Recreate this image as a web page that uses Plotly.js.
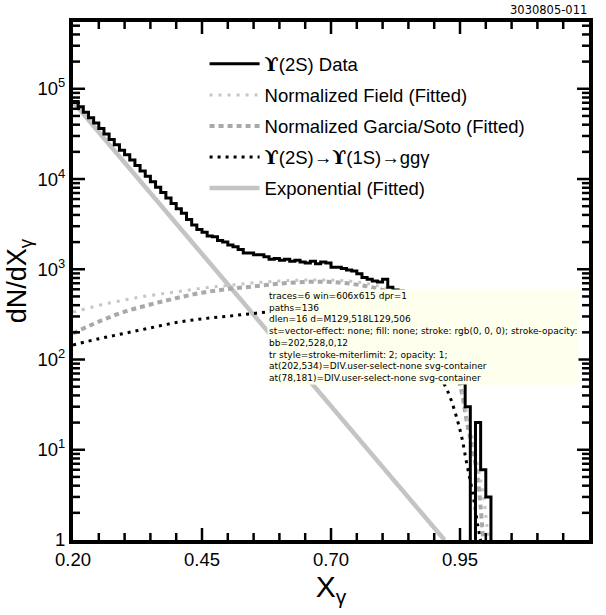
<!DOCTYPE html>
<html>
<head>
<meta charset="utf-8">
<script src="https://cdn.plot.ly/plotly-3.0.1.min.js"></script>
<style>html,body{margin:0;padding:0;background:#fff;}#chart{width:606px;height:615px;}</style>
</head>
<body>
<div id="chart"></div>
<script>
// Histogram bin edges (X_gamma) and counts for Upsilon(2S) data
const binEdges = [0.20,0.21,0.22,0.23,0.24,0.25,0.26,0.27,0.28,0.29,
  0.30,0.31,0.32,0.33,0.34,0.35,0.36,0.37,0.38,0.39,
  0.40,0.41,0.42,0.43,0.44,0.45,0.46,0.47,0.48,0.49,
  0.50,0.51,0.52,0.53,0.54,0.55,0.56,0.57,0.58,0.59,
  0.60,0.61,0.62,0.63,0.64,0.65,0.66,0.67,0.68,0.69,
  0.70,0.71,0.72,0.73,0.74,0.75,0.76,0.77,0.78,0.79,
  0.80,0.81,0.82,0.83,0.84,0.85,0.86,0.87,0.88,0.89,
  0.90,0.91,0.92,0.93,0.94,0.95,0.96,0.97,0.98,0.99,
  1.00,1.01];
const dataCounts = [72400,63100,55000,47900,41700,36300,31600,27500,24000,20900,
  18600,16200,14100,12300,10700,9330,8130,7080,6170,5370,
  4680,4170,3550,3090,2750,2570,2340,2290,2090,2000,
  1860,1780,1660,1510,1510,1450,1450,1380,1290,1320,
  1260,1290,1230,1260,1200,1170,1230,1150,1200,1170,
  1050,1050,1020,980,955,891,813,776,741,724,
  776,631,589,575,550,550,417,355,316,229,
  214,263,141,89,60,55,30,0,20,6,
  3];

// Normalized Field (Fitted)
const fieldX = [0.20,0.25,0.30,0.35,0.40,0.45,0.50,0.55,0.60,0.65,0.70,0.75,0.80,0.85,0.875,0.90,0.925,0.95,0.965,0.975,0.985,0.995,1.005];
const fieldY = [335,398,457,513,562,617,661,708,741,759,759,724,631,468,316,214,132,56,22,12.6,6.3,3.2,1.0];

// Normalized Garcia/Soto (Fitted)
const garciaX = [0.20,0.25,0.30,0.35,0.40,0.45,0.50,0.55,0.60,0.65,0.70,0.75,0.80,0.85,0.875,0.90,0.925,0.95,0.965,0.975,0.985,0.995];
const garciaY = [195,263,339,407,479,550,603,646,692,724,724,676,589,437,282,200,126,52,18,10,4.5,1.0];

// Upsilon(2S) -> Upsilon(1S) -> gg gamma
const gggX = [0.20,0.25,0.30,0.35,0.40,0.45,0.50,0.55,0.60,0.65,0.70,0.75,0.80,0.85,0.875,0.90,0.925,0.95,0.963,0.975,0.985,0.99];
const gggY = [145,170,195,224,257,282,302,324,347,355,347,295,229,148,112,79,46,16.6,7.1,3.2,1.4,1.0];

// Exponential (Fitted)
const expX = [0.20,0.92];
const expY = [72000,1];

// Axis ticks
const yTickVals = [1,10,100,1000,10000,100000];
const yTickText = ['1','10<sup>1</sup>','10<sup>2</sup>','10<sup>3</sup>','10<sup>4</sup>','10<sup>5</sup>'];
const xTickVals = [0.20,0.45,0.70,0.95,1.20];
const xTickText = ['0.20','0.45','0.70','0.95','1.20'];
const xMinorTicks = [0.25,0.30,0.35,0.40,0.50,0.55,0.60,0.65,0.75,0.80,0.85,0.90,1.00,1.05,1.10,1.15];
const yMinorDigits = [2,3,4,5,6,7,8,9];

const X_RANGE = [0.20, 1.20];
const Y_RANGE_LOG = [0, 5.74];

// step-histogram path built from bins
const histX = binEdges.slice();
const histY = dataCounts.map(v => v > 0 ? v : 0.1);
histY.push(dataCounts[dataCounts.length - 1]);
histX.push(binEdges[binEdges.length - 1]);
histY.push(0.1);

const yMinorTicks = [];
for (let d = 0; d < 6; d++) yMinorDigits.forEach(k => yMinorTicks.push(k * Math.pow(10, d)));

// inside tick marks on all four sides, drawn as a line trace through the axes
const PW = 516, PH = 518, MAJ = 12, MIN = 7;
const dLogPerPx = (Y_RANGE_LOG[1] - Y_RANGE_LOG[0]) / PH;
const dXPerPx = (X_RANGE[1] - X_RANGE[0]) / PW;
const yLo = Math.pow(10, Y_RANGE_LOG[0]), yHi = Math.pow(10, Y_RANGE_LOG[1]);
const tickX = [], tickY = [];
function xTick(v, len) {
  tickX.push(v, v, null, v, v, null);
  tickY.push(yLo, Math.pow(10, Y_RANGE_LOG[0] + len * dLogPerPx), null, yHi, Math.pow(10, Y_RANGE_LOG[1] - len * dLogPerPx), null);
}
function yTick(v, len) {
  tickX.push(X_RANGE[0], X_RANGE[0] + len * dXPerPx, null, X_RANGE[1], X_RANGE[1] - len * dXPerPx, null);
  tickY.push(v, v, null, v, v, null);
}
xTickVals.slice(1, -1).forEach(v => xTick(v, MAJ));
xMinorTicks.forEach(v => xTick(v, MIN));
yTickVals.slice(1).forEach(v => yTick(v, MAJ));
yMinorTicks.filter(v => v < yHi).forEach(v => yTick(v, MIN));

const FONT = 'Liberation Sans, Arial, Helvetica, sans-serif';
const UPS = '<span style="font-family:DejaVu Serif;font-weight:bold">ϒ</span>';

const traces = [
  {x: expX, y: expY, mode: 'lines', name: 'Exponential (Fitted)', legendgroup: 'e', legendrank: 5,
   line: {color: '#c4c4c4', width: 4.5}},
  {x: gggX, y: gggY, mode: 'lines', name: UPS + '(2S)→' + UPS + '(1S)→ggγ', legendgroup: 'd', legendrank: 4,
   line: {color: '#000000', width: 3, dash: '3px,5px', shape: 'spline'}},
  {x: garciaX, y: garciaY, mode: 'lines', name: 'Normalized Garcia/Soto (Fitted)', legendgroup: 'c', legendrank: 3,
   line: {color: '#a9a9a9', width: 4, dash: '5px,4px', shape: 'spline'}},
  {x: fieldX, y: fieldY, mode: 'lines', name: 'Normalized Field (Fitted)', legendgroup: 'b', legendrank: 2,
   line: {color: '#c6c6c6', width: 3, dash: '3px,6px', shape: 'spline'}},
  {x: histX, y: histY, mode: 'lines', name: UPS + '(2S) Data', legendgroup: 'a', legendrank: 1,
   line: {color: '#000000', width: 3, shape: 'hv'}},
  {x: tickX, y: tickY, mode: 'lines', showlegend: false, hoverinfo: 'skip', connectgaps: false,
   line: {color: '#000000', width: 2.5}}
];

const layout = {
  width: 606, height: 615,
  margin: {l: 73, r: 17, t: 22, b: 75},
  paper_bgcolor: '#ffffff', plot_bgcolor: '#ffffff',
  font: {family: FONT, color: '#000', size: 18.5},
  showlegend: true,
  legend: {x: 0.255, xanchor: 'left', y: 0.955, yanchor: 'top', bgcolor: 'rgba(0,0,0,0)',
    traceorder: 'grouped', tracegroupgap: 4, itemwidth: 50,
    font: {family: FONT, size: 18.5, color: '#000'}},
  xaxis: {range: X_RANGE, tickmode: 'array', tickvals: xTickVals, ticktext: xTickText,
    showgrid: false, zeroline: false, showline: true, linewidth: 4, linecolor: '#000', mirror: true,
    ticks: '', tickfont: {size: 18.5, family: FONT},
    title: {text: 'X<sub>γ</sub>', font: {size: 30, family: FONT}, standoff: 6}},
  yaxis: {type: 'log', range: Y_RANGE_LOG, tickmode: 'array', tickvals: yTickVals, ticktext: yTickText,
    showgrid: false, zeroline: false, showline: true, linewidth: 4, linecolor: '#000', mirror: true,
    ticks: '', tickfont: {size: 18.5, family: FONT},
    title: {text: 'dN/dX<sub>γ</sub>', font: {size: 27, family: FONT}, standoff: 4}},
  annotations: [
    {text: '3030805-011', xref: 'paper', yref: 'paper', x: 1.0, y: 1.0, xanchor: 'right', yanchor: 'bottom',
     yshift: 3, showarrow: false, font: {size: 11.5, family: 'DejaVu Sans, sans-serif', color: '#000'}}
  ]
};

Plotly.newPlot('chart', traces, layout, {displayModeBar: false, staticPlot: true}).then(function (gd) {
  // temporary diagnostic
  const lines = [];
  const trs = document.querySelectorAll('.scatterlayer .trace');
  lines.push('traces=' + trs.length + ' win=' + window.innerWidth + 'x' + window.innerHeight + ' dpr=' + window.devicePixelRatio);
  const last = trs[trs.length - 1];
  if (last) {
    const ps = last.querySelectorAll('path');
    lines.push('paths=' + ps.length);
    if (ps.length) {
      const d = ps[0].getAttribute('d') || '';
      lines.push('dlen=' + d.length + ' d=' + d.slice(0, 50));
      lines.push('st=' + (ps[0].getAttribute('style') || '').slice(0, 70));
      const b = ps[0].getBoundingClientRect();
      lines.push('bb=' + [b.x, b.y, b.width, b.height].map(v => v.toFixed(0)).join(','));
    }
    lines.push('tr style=' + (last.getAttribute('style') || '').slice(0, 50));
  }
  const e1 = document.elementFromPoint(202, 534);
  const e2 = document.elementFromPoint(78, 181);
  lines.push('at(202,534)=' + (e1 ? e1.tagName + '.' + (e1.getAttribute('class') || '') : 'null'));
  lines.push('at(78,181)=' + (e2 ? e2.tagName + '.' + (e2.getAttribute('class') || '') : 'null'));
  Plotly.relayout(gd, {'annotations[1]': {text: lines.join('<br>'), xref: 'paper', yref: 'paper', x: 0.98, y: 0.30, xanchor: 'right', yanchor: 'bottom', align: 'left', showarrow: false, bgcolor: '#ffffee', font: {size: 9, family: 'DejaVu Sans'}}});
});
</script>
</body>
</html>
